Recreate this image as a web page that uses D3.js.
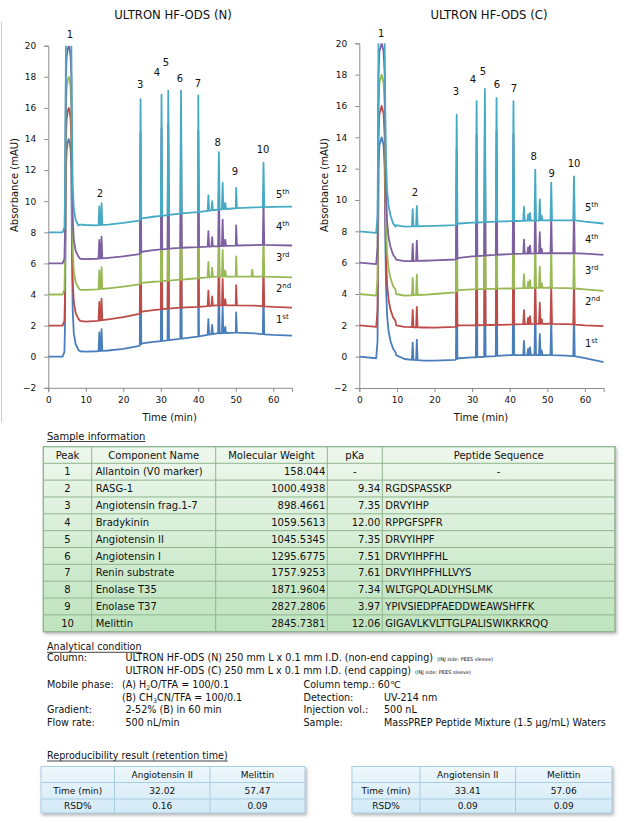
<!DOCTYPE html>
<html><head><meta charset="utf-8">
<script src="https://cdn.jsdelivr.net/npm/d3@7"></script>
<style>
body{margin:0;background:#fff}
svg{display:block}
text{font-family:"DejaVu Sans",Verdana,sans-serif;fill:#111}
</style>
</head><body>
<svg id="page" width="630" height="823"></svg>
<script>
// ---------------- DATA ----------------
const runNames = ["1st","2nd","3rd","4th","5th"];
const runColors = ["#4a7ebb","#be4b48","#98b954","#7d60a0","#46aac5"];
const timeTicks = [0,10,20,30,40,50,60];
const absTicks = [-2,0,2,4,6,8,10,12,14,16,18,20];
const peakNames = ["1","2","3","4","5","6","7","8","9","10"];

// Column N chromatograms
const nTitle = "ULTRON HF-ODS (N)";
const nPeak1 = [[3.8,0],[4.3,0.3],[4.45,2],[4.6,8],[4.7,12],[4.9,13.3],[5.2,13.8],[5.45,14],[5.7,13.8],[5.95,13.3],[6.15,12],[6.3,7],[6.5,3],[6.8,1.5],[7.3,0.8],[8,0.45]];
const nBaseTimes = [0,3.8,8.5,10,13,16,20,24.3,25,28,30,35,40,45,50,55,57,60,65];
const nBase1 = [0,0,0.35,0.32,0.35,0.4,0.5,0.7,0.85,0.95,1.0,1.15,1.3,1.5,1.55,1.5,1.45,1.4,1.35];
const nBase2 = [2,2,2.3,2.25,2.3,2.4,2.55,2.75,2.9,3.0,3.05,3.15,3.2,3.3,3.3,3.28,3.25,3.2,3.15];
const nBase3 = [4,4,4.3,4.3,4.33,4.4,4.5,4.65,4.75,4.82,4.85,4.95,5.05,5.15,5.15,5.15,5.15,5.13,5.1];
const nBase4 = [6,6,6.3,6.27,6.3,6.36,6.45,6.6,6.75,6.85,6.9,7.0,7.05,7.1,7.15,7.18,7.2,7.18,7.15];
const nBase5 = [8,8,8.5,8.47,8.45,8.5,8.6,8.75,8.9,9.0,9.05,9.2,9.3,9.45,9.55,9.6,9.62,9.64,9.65];
const nPeakTimes   = [13.6,14.2,24.6,30.2,32.0,35.4,40.0,42.7,43.7,45.5,46.5,47.2,50.1,57.4];
const nPeakHeights = [1.2, 1.4, 7.75,7.8, 8.0, 7.9, 7.5, 1.0, 0.6, 3.7, 1.7, 0.4, 1.3, 2.85];
const nExtraRun = 2, nExtraTime = 54.4, nExtraHeight = 0.45;
const nLabelTimes  = [5.8,13.8,24.5,29.0,31.4,35.1,39.9,45.2,49.8,57.3];
const nLabelValues = [20.7,10.5,17.5,18.25,18.9,17.9,17.6,13.8,11.9,13.35];
const nRunLabelValues = [2.4,4.4,6.4,8.4,10.46];
const nRunLabelTime = 60.7;

// Column C chromatograms
const cTitle = "ULTRON HF-ODS (C)";
const cPeak1 = [[4.5,-0.1],[4.85,1],[5.0,6],[5.1,12],[5.35,13.5],[5.95,14],[6.45,13.5],[6.75,12],[6.9,8],[7.1,4.5],[7.4,2.6],[7.8,1.6],[8.3,1.0],[9.0,0.5],[9.6,0.3]];
const cBaseTimes = [0,4.5,9.8,12,14,17,20,25.5,26.5,30,35,40,45,50,55,57.5,60,65];
const cBase1 = [0,-0.12,0.1,-0.15,-0.2,-0.25,-0.25,-0.2,-0.1,-0.05,0.02,0.1,0.1,0.1,0.07,0.02,-0.1,-0.35];
const cBase2 = [2,1.92,2.0,1.9,1.88,1.86,1.85,1.9,2.0,2.0,2.02,2.05,2.08,2.1,2.08,2.05,2.0,1.95];
const cBase3 = [4,3.95,4.0,3.9,3.92,3.95,4.0,4.1,4.25,4.3,4.33,4.35,4.38,4.4,4.38,4.35,4.3,4.2];
const cBase4 = [6,5.95,6.2,6.1,6.1,6.12,6.15,6.2,6.3,6.4,6.48,6.55,6.58,6.6,6.6,6.6,6.57,6.5];
const cBase5 = [8,7.95,8.4,8.3,8.32,8.33,8.35,8.4,8.5,8.55,8.6,8.65,8.68,8.7,8.7,8.7,8.62,8.5];
const cPeakTimes   = [14.2,15.3,25.9,31.2,33.4,36.5,41.0,43.8,44.9,45.4,46.8,48.0,48.5,51.05,57.1];
const cPeakHeights = [1.1, 1.3, 7.0, 7.75,8.5, 7.9, 7.65,0.9, 0.4, 0.5, 3.25,1.35,0.3, 2.4,  2.8];
const cLabelTimes  = [5.8,14.8,25.7,30.2,32.9,36.6,41.1,46.4,51.2,57.1];
const cLabelValues = [20.6,10.45,16.9,17.7,18.2,17.4,17.1,12.8,11.7,12.3];
const cRunLabelValues = [0.87,3.49,5.47,7.45,9.49];
const cRunLabelTime = 60.0;

// Sample table
const tableHeaders = ["Peak","Component Name","Molecular Weight","pKa","Peptide Sequence"];
const peakNos = ["1","2","3","4","5","6","7","8","9","10"];
const compNames = ["Allantoin (V0 marker)","RASG-1","Angiotensin frag.1-7","Bradykinin","Angiotensin II","Angiotensin I","Renin substrate","Enolase T35","Enolase T37","Melittin"];
const molWeights = ["158.044","1000.4938","898.4661","1059.5613","1045.5345","1295.6775","1757.9253","1871.9604","2827.2806","2845.7381"];
const pKas = ["-","9.34","7.35","12.00","7.35","7.51","7.61","7.34","3.97","12.06"];
const sequences = ["-","RGDSPASSKP","DRVYIHP","RPPGFSPFR","DRVYIHPF","DRVYIHPFHL","DRVYIHPFHLLVYS","WLTGPQLADLYHSLMK","YPIVSIEDPFAEDDWEAWSHFFK","GIGAVLKVLTTGLPALISWIKRKRQQ"];

// Reproducibility tables
const reproHeaders = ["","Angiotensin II","Melittin"];
const reproRowNames = ["Time (min)","RSD%"];
const reproN = [["32.02","57.47"],["0.16","0.09"]];
const reproC = [["33.41","57.06"],["0.09","0.09"]];

// ---------------- DRAWING ----------------
const svg = d3.select("#page");
const defs = svg.append("defs");
const sh = defs.append("filter").attr("id","shadow").attr("x","-5%").attr("y","-10%").attr("width","115%").attr("height","130%");
sh.append("feDropShadow").attr("dx",1.5).attr("dy",2).attr("stdDeviation",1.5).attr("flood-color","#888").attr("flood-opacity",0.6);
const gG = defs.append("linearGradient").attr("id","greenGrad").attr("gradientUnits","userSpaceOnUse")
  .attr("x1",0).attr("y1",446).attr("x2",0).attr("y2",632);
gG.append("stop").attr("offset",0).attr("stop-color","#eef8ee");
gG.append("stop").attr("offset",1).attr("stop-color","#bee3be");
const bG = defs.append("linearGradient").attr("id","blueGrad").attr("x1",0).attr("y1",0).attr("x2",0).attr("y2",1);
bG.append("stop").attr("offset",0).attr("stop-color","#eef7fc");
bG.append("stop").attr("offset",1).attr("stop-color","#d2eaf7");

svg.append("line").attr("x1",1.5).attr("x2",1.5).attr("y1",22).attr("y2",423).attr("stroke","#cfcfcf").attr("stroke-width",1);

function drawChart(cfg){
  const x = d3.scaleLinear().domain([0,65]).range(cfg.xr);
  const y = d3.scaleLinear().domain([-2,20]).range(cfg.yr);
  const g = svg.append("g");
  const clipId = "clip"+cfg.id;
  defs.append("clipPath").attr("id",clipId).append("rect")
    .attr("x",cfg.xr[0]).attr("y",cfg.yr[1]).attr("width",cfg.xr[1]-cfg.xr[0]).attr("height",cfg.yr[0]-cfg.yr[1]);

  const ya = g.append("g").attr("transform",`translate(${x(0)},0)`)
    .call(d3.axisLeft(y).tickValues(absTicks).tickSize(4).tickPadding(8));
  const xa = g.append("g").attr("transform",`translate(0,${y(-2)})`)
    .call(d3.axisBottom(x).tickValues(timeTicks).tickSize(4).tickPadding(5));
  [ya,xa].forEach(a=>{
    a.selectAll("path,line").attr("stroke","#8c8c8c");
    a.selectAll("text").attr("font-size",9).attr("font-family","DejaVu Sans").attr("fill","#111");
  });

  const line = d3.line().x(d=>x(d[0])).y(d=>y(d[1]));
  const w = 0.2;
  const tr = g.append("g").attr("clip-path",`url(#${clipId})`);
  cfg.bases.forEach((bv,r)=>{
    const base = d3.scaleLinear().domain(cfg.baseTimes).range(bv);
    const start = bv[0];
    const p0 = cfg.peak1[0][0], p1 = cfg.peak1[cfg.peak1.length-1][0];
    const pts = [];
    cfg.baseTimes.forEach((t,i)=>{ if(t<p0||t>p1) pts.push([t,bv[i]]); });
    cfg.peak1.forEach(([t,v])=>pts.push([t,start+v]));
    cfg.peakTimes.forEach((t,i)=>{
      const h = cfg.peakHeights[i];
      pts.push([t-w,base(t-w)],[t,base(t)+h],[t+w,base(t+w)]);
    });
    if(cfg.extra && cfg.extra.run===r){
      const t = cfg.extra.time;
      pts.push([t-w,base(t-w)],[t,base(t)+cfg.extra.height],[t+w,base(t+w)]);
    }
    pts.sort((a,b)=>a[0]-b[0]);
    tr.append("path").datum(pts).attr("d",line).attr("fill","none")
      .attr("stroke",runColors[r]).attr("stroke-width",1.8).attr("stroke-linejoin","round");
  });

  g.selectAll(".pl").data(peakNames).enter().append("text")
    .attr("x",(d,i)=>x(cfg.labelTimes[i])).attr("y",(d,i)=>y(cfg.labelValues[i]))
    .attr("text-anchor","middle").attr("dominant-baseline","central").attr("font-size",10).text(d=>d);

  runNames.forEach((nm,i)=>{
    const t = g.append("text").attr("x",x(cfg.runLabelTime)).attr("y",y(cfg.runLabelValues[i])+3.5).attr("font-size",10);
    t.append("tspan").text(nm.slice(0,1));
    t.append("tspan").attr("font-size",7).attr("dy",-4).text(nm.slice(1));
  });

  g.append("text").attr("x",cfg.titleX).attr("y",19).attr("text-anchor","middle").attr("font-size",11.7).text(cfg.title);
  g.append("text").attr("x",(cfg.xr[0]+cfg.xr[1])/2 - 0.5).attr("y",420.5).attr("text-anchor","middle").attr("font-size",10).text("Time (min)");
  g.append("text").attr("transform",`translate(${cfg.ylabX},185) rotate(-90)`).attr("text-anchor","middle")
    .attr("dominant-baseline","central").attr("font-size",10).text("Absorbance (mAU)");
}

drawChart({id:"N",xr:[48.3,292],yr:[387.8,45.7],title:nTitle,titleX:173,ylabX:14,
  peak1:nPeak1,baseTimes:nBaseTimes,bases:[nBase1,nBase2,nBase3,nBase4,nBase5],
  peakTimes:nPeakTimes,peakHeights:nPeakHeights,extra:{run:nExtraRun,time:nExtraTime,height:nExtraHeight},
  labelTimes:nLabelTimes,labelValues:nLabelValues,runLabelValues:nRunLabelValues,runLabelTime:nRunLabelTime});
drawChart({id:"C",xr:[359.3,603.7],yr:[388,43.3],title:cTitle,titleX:489,ylabX:324,
  peak1:cPeak1,baseTimes:cBaseTimes,bases:[cBase1,cBase2,cBase3,cBase4,cBase5],
  peakTimes:cPeakTimes,peakHeights:cPeakHeights,extra:null,
  labelTimes:cLabelTimes,labelValues:cLabelValues,runLabelValues:cRunLabelValues,runLabelTime:cRunLabelTime});

// ---------- headings ----------
function heading(txt,x,y,fs){
  const t = svg.append("text").attr("x",x).attr("y",y).attr("font-size",fs||10).text(txt);
  const bb = t.node().getBBox();
  svg.append("line").attr("x1",x).attr("x2",x+bb.width).attr("y1",y+2).attr("y2",y+2).attr("stroke","#111").attr("stroke-width",0.8);
}
heading("Sample information",47,439.5);

// ---------- Sample information table ----------
const colX = [43.3,91.7,215.7,327.3,382.3,615];
const tTop = 446.7, hdrH = 16.6, rowH = 16.84;
const nRows = peakNos.length;
const tBottom = tTop + hdrH + nRows*rowH;
const tg = svg.append("g");
tg.append("rect").attr("x",colX[0]).attr("y",tTop).attr("width",colX[5]-colX[0]).attr("height",tBottom-tTop)
  .attr("fill","url(#greenGrad)").attr("stroke","#8fb58f").attr("stroke-width",1).attr("filter","url(#shadow)");
for(let i=0;i<nRows;i++){
  const yy = tTop+hdrH+i*rowH;
  tg.append("line").attr("x1",colX[0]).attr("x2",colX[5]).attr("y1",yy).attr("y2",yy).attr("stroke","#8fb58f");
}
colX.slice(1,5).forEach(cx=>tg.append("line").attr("x1",cx).attr("x2",cx).attr("y1",tTop).attr("y2",tBottom).attr("stroke","#8fb58f"));
tg.append("rect").attr("x",colX[0]).attr("y",tTop).attr("width",colX[5]-colX[0]).attr("height",tBottom-tTop)
  .attr("fill","none").attr("stroke","#8fb58f");
tableHeaders.forEach((h,i)=>{
  tg.append("text").attr("x",(colX[i]+colX[i+1])/2).attr("y",tTop+hdrH/2+3.6).attr("text-anchor","middle").attr("font-size",10).text(h);
});
peakNos.forEach((p,r)=>{
  const yc = tTop+hdrH+r*rowH+rowH/2+3.6;
  tg.append("text").attr("x",(colX[0]+colX[1])/2).attr("y",yc).attr("text-anchor","middle").attr("font-size",10).text(p);
  tg.append("text").attr("x",colX[1]+4).attr("y",yc).attr("font-size",10).text(compNames[r]);
  tg.append("text").attr("x",colX[3]-2).attr("y",yc).attr("text-anchor","end").attr("font-size",10).text(molWeights[r]);
  if(pKas[r]==="-"){
    tg.append("text").attr("x",(colX[3]+colX[4])/2).attr("y",yc).attr("text-anchor","middle").attr("font-size",10).text(pKas[r]);
  } else {
    tg.append("text").attr("x",colX[4]-2).attr("y",yc).attr("text-anchor","end").attr("font-size",10).text(pKas[r]);
  }
  if(sequences[r]==="-"){
    tg.append("text").attr("x",(colX[4]+colX[5])/2).attr("y",yc).attr("text-anchor","middle").attr("font-size",10).text(sequences[r]);
  } else {
    tg.append("text").attr("x",colX[4]+3).attr("y",yc).attr("font-size",10).text(sequences[r]);
  }
});

// ---------- Analytical condition ----------
const FS = 9.6;
heading("Analytical condition",47,650.3,FS);
function txt(x,y,parts){
  const t = svg.append("text").attr("x",x).attr("y",y).attr("font-size",FS);
  parts.forEach(p=>{
    if(typeof p==="string") t.append("tspan").text(p);
    else if(p.sub) t.append("tspan").attr("font-size",6.3).attr("baseline-shift","-25%").text(p.sub);
  });
  return t;
}
function small(after,s){
  const bb = after.node().getBBox();
  svg.append("text").attr("x",bb.x+bb.width+4).attr("y",+after.attr("y")).attr("font-size",5).attr("fill","#333").text(s);
}
const L1 = 660.5, L2 = 673.5, L3 = 688, L4 = 700.5, L5 = 713, L6 = 725.5;
const vX = 125.5, rX = 303.5, rvX = 384;
txt(47,L1,["Column:"]);
small(txt(vX,L1,["ULTRON HF-ODS (N) 250 mm L x 0.1 mm I.D. (non-end capping)"]),"(INJ side: PEES sleeve)");
small(txt(vX,L2,["ULTRON HF-ODS (C) 250 mm L x 0.1 mm I.D. (end capping)"]),"(INJ side: PEES sleeve)");
txt(47,L3,["Mobile phase:"]);
txt(122,L3,["(A) H",{sub:"2"},"O/TFA = 100/0.1"]);
txt(122,L4,["(B) CH",{sub:"3"},"CN/TFA = 100/0.1"]);
txt(rX,L3,["Column temp.: 60℃"]);
txt(rX,L4,["Detection:"]); txt(rvX,L4,["UV-214 nm"]);
txt(47,L5,["Gradient:"]); txt(vX,L5,["2-52% (B) in 60 min"]);
txt(rX,L5,["Injection vol.:"]); txt(rvX,L5,["500 nL"]);
txt(47,L6,["Flow rate:"]); txt(vX,L6,["500 nL/min"]);
txt(rX,L6,["Sample:"]); txt(rvX,L6,["MassPREP Peptide Mixture (1.5 μg/mL) Waters"]);

// ---------- Reproducibility ----------
heading("Reproducibility result (retention time)",47,759,FS);
function reproTable(cols,vals){
  const rowsY = [766.5,782.5,799,813];
  const g = svg.append("g");
  g.append("rect").attr("x",cols[0]).attr("y",rowsY[0]).attr("width",cols[3]-cols[0]).attr("height",rowsY[3]-rowsY[0])
    .attr("fill","url(#blueGrad)").attr("stroke","#a9cde0").attr("filter","url(#shadow)");
  [1,2].forEach(i=>g.append("line").attr("x1",cols[0]).attr("x2",cols[3]).attr("y1",rowsY[i]).attr("y2",rowsY[i]).attr("stroke","#a9cde0"));
  [1,2].forEach(i=>g.append("line").attr("x1",cols[i]).attr("x2",cols[i]).attr("y1",rowsY[0]).attr("y2",rowsY[3]).attr("stroke","#a9cde0"));
  const cx = [(cols[0]+cols[1])/2,(cols[1]+cols[2])/2,(cols[2]+cols[3])/2];
  const f = 9;
  reproHeaders.forEach((h,i)=>g.append("text").attr("x",cx[i]).attr("y",(rowsY[0]+rowsY[1])/2+3.2).attr("text-anchor","middle")
    .attr("font-family","Lato").attr("font-size",f).text(h));
  reproRowNames.forEach((rn,r)=>{
    const yc = (rowsY[r+1]+rowsY[r+2])/2+3.2;
    g.append("text").attr("x",cx[0]).attr("y",yc).attr("text-anchor","middle").attr("font-family","Lato").attr("font-size",f).text(rn);
    vals[r].forEach((v,c)=>g.append("text").attr("x",cx[c+1]).attr("y",yc).attr("text-anchor","middle").attr("font-family","Lato").attr("font-size",f).text(v));
  });
}
reproTable([41,114.5,210,305],reproN);
reproTable([352,420,515.5,612],reproC);
</script>
</body></html>
